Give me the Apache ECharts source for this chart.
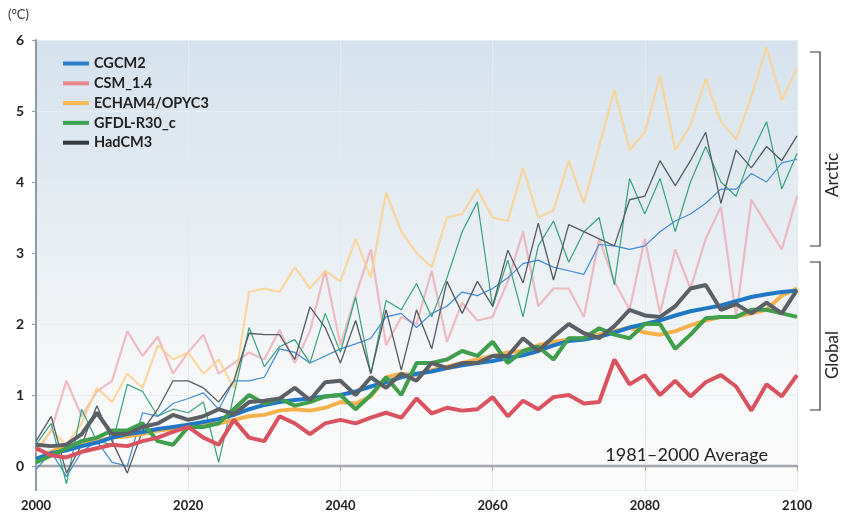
<!DOCTYPE html>
<html>
<head>
<meta charset="utf-8">
<script src="https://cdn.jsdelivr.net/npm/echarts@6.0.0/dist/echarts.min.js"></script>
<style>
  html, body { margin: 0; padding: 0; background: #fff; }
  #chart { width: 841px; height: 517px; }
</style>
</head>
<body>
<div id="chart"></div>
<script>
// years, every second year
var years = [2000, 2002, 2004, 2006, 2008, 2010, 2012, 2014, 2016, 2018,
  2020, 2022, 2024, 2026, 2028, 2030, 2032, 2034, 2036, 2038,
  2040, 2042, 2044, 2046, 2048, 2050, 2052, 2054, 2056, 2058,
  2060, 2062, 2064, 2066, 2068, 2070, 2072, 2074, 2076, 2078,
  2080, 2082, 2084, 2086, 2088, 2090, 2092, 2094, 2096, 2098, 2100]

var models = ['CGCM2', 'CSM_1.4', 'ECHAM4/OPYC3', 'GFDL-R30_c', 'HadCM3']

// 1981-2000 average reference line
var baseline = [[2000, 0], [2100, 0]]

// global mean (thick lines)
var cgcm2Global = [0.10, 0.18, 0.22, 0.28, 0.33, 0.40, 0.45, 0.48, 0.52, 0.55,
  0.58, 0.62, 0.66, 0.72, 0.80, 0.86, 0.90, 0.93, 0.95, 0.98,
  1.00, 1.05, 1.12, 1.18, 1.25, 1.30, 1.33, 1.38, 1.42, 1.45,
  1.48, 1.52, 1.56, 1.62, 1.70, 1.76, 1.78, 1.82, 1.88, 1.95,
  2.00, 2.05, 2.12, 2.18, 2.22, 2.26, 2.32, 2.38, 2.42, 2.45, 2.47]
var csmGlobal = [0.25, 0.15, 0.12, 0.2, 0.25, 0.3, 0.28, 0.35, 0.4, 0.48,
  0.55, 0.4, 0.3, 0.65, 0.4, 0.35, 0.7, 0.6, 0.45, 0.6,
  0.65, 0.6, 0.68, 0.75, 0.68, 0.95, 0.74, 0.82, 0.78, 0.8,
  0.97, 0.7, 0.92, 0.8, 0.97, 1.0, 0.88, 0.9, 1.5, 1.15,
  1.28, 1.0, 1.2, 0.98, 1.18, 1.28, 1.12, 0.78, 1.15, 0.98, 1.28]
var echamGlobal = [0.05, 0.2, 0.3, 0.3, 0.35, 0.4, 0.42, 0.45, 0.5, 0.52,
  0.55, 0.58, 0.6, 0.65, 0.7, 0.72, 0.78, 0.8, 0.78, 0.82,
  0.9, 0.88, 0.98, 1.25, 1.3, 1.28, 1.35, 1.4, 1.45, 1.5,
  1.55, 1.6, 1.62, 1.7, 1.75, 1.78, 1.8, 1.85, 1.9, 1.95,
  1.88, 1.85, 1.9, 1.98, 2.05, 2.1, 2.1, 2.15, 2.2, 2.4, 2.5]
var gfdlGlobal = [0.05, 0.15, 0.25, 0.35, 0.4, 0.5, 0.5, 0.6, 0.35, 0.3,
  0.55, 0.55, 0.6, 0.8, 1.0, 0.88, 0.95, 0.85, 0.9, 0.98,
  1.0, 0.8, 1.0, 1.25, 1.0, 1.45, 1.45, 1.5, 1.62, 1.55,
  1.75, 1.45, 1.62, 1.68, 1.5, 1.8, 1.8, 1.94, 1.85, 1.8,
  2.0, 2.0, 1.65, 1.85, 2.08, 2.1, 2.1, 2.2, 2.2, 2.15, 2.1]
var hadGlobal = [0.3, 0.28, 0.3, 0.45, 0.75, 0.45, 0.45, 0.55, 0.6, 0.72,
  0.65, 0.7, 0.8, 0.73, 0.9, 0.92, 0.95, 1.1, 0.93, 1.18,
  1.2, 1.0, 1.25, 1.1, 1.3, 1.2, 1.45, 1.38, 1.45, 1.45,
  1.55, 1.55, 1.8, 1.62, 1.82, 2.0, 1.87, 1.8, 1.97, 2.2,
  2.12, 2.1, 2.25, 2.5, 2.55, 2.2, 2.28, 2.15, 2.3, 2.15, 2.48]

// arctic (thin lines)
var cgcm2Arctic = [-0.05, 0.2, -0.15, 0.2, 0.35, 0.05, 0.0, 0.75, 0.7, 0.88,
  0.95, 1.03, 0.8, 1.2, 1.2, 1.25, 1.65, 1.6, 1.45, 1.55,
  1.65, 1.72, 1.8, 2.1, 2.15, 1.95, 2.15, 2.25, 2.45, 2.4,
  2.5, 2.65, 2.85, 2.9, 2.8, 2.75, 2.7, 3.12, 3.1, 3.05,
  3.1, 3.3, 3.45, 3.55, 3.7, 3.9, 3.9, 4.12, 4.0, 4.27, 4.32]
var csmArctic = [0.2, 0.5, 1.2, 0.7, 1.05, 1.2, 1.9, 1.55, 1.82, 1.3,
  1.6, 1.85, 1.3, 1.45, 1.6, 1.5, 1.92, 1.45, 1.9, 2.75,
  1.7, 2.4, 3.05, 1.7, 2.1, 2.0, 2.75, 1.75, 2.3, 2.05,
  2.1, 2.6, 3.3, 2.25, 2.5, 2.5, 2.1, 3.2, 2.6, 2.2,
  3.2, 2.15, 3.05, 2.5, 3.2, 3.65, 2.1, 3.75, 3.4, 3.05, 3.8]
var echamArctic = [0.2, 0.5, 0.3, 0.6, 1.1, 0.9, 1.3, 1.1, 1.7, 1.5,
  1.6, 1.3, 1.5, 1.1, 2.45, 2.5, 2.45, 2.8, 2.5, 2.75,
  2.6, 3.2, 2.65, 3.85, 3.3, 3.0, 2.8, 3.5, 3.55, 3.9,
  3.5, 3.45, 4.2, 3.5, 3.6, 4.3, 3.7, 4.5, 5.3, 4.45,
  4.7, 5.5, 4.45, 4.8, 5.45, 4.85, 4.6, 5.2, 5.9, 5.15, 5.6]
var gfdlArctic = [0.3, 0.6, -0.25, 0.8, 0.35, 0.3, 1.15, 1.05, 0.7, 0.8,
  0.75, 0.9, 0.05, 1.0, 1.95, 1.4, 1.68, 1.78, 1.45, 2.15,
  1.6, 2.38, 1.3, 2.33, 2.2, 2.57, 2.1, 2.65, 3.3, 3.72,
  2.24, 2.9, 2.1, 3.1, 3.45, 2.87, 3.3, 3.5, 2.55, 4.05,
  3.55, 4.05, 3.3, 4.0, 4.5, 4.0, 3.8, 4.4, 4.85, 3.9, 4.4]
var hadArctic = [0.35, 0.7, -0.1, 0.3, 0.85, 0.35, -0.1, 0.5, 0.8, 1.2,
  1.2, 1.1, 0.9, 1.2, 1.87, 1.85, 1.85, 1.5, 2.24, 1.95,
  1.45, 2.05, 1.3, 2.2, 1.35, 2.2, 1.65, 2.6, 2.15, 2.6,
  2.25, 3.04, 2.58, 3.42, 2.62, 3.4, 3.3, 3.2, 3.1, 3.75,
  3.8, 4.3, 3.95, 4.3, 4.7, 3.7, 4.45, 4.2, 4.5, 4.3, 4.65]

var FONT = 'Lato, "Open Sans", sans-serif'

function pairs(vals) {
  return years.map(function (y, i) { return [y, vals[i]] })
}

function thin(name, vals, color, width, opacity) {
  return {
    name: name, type: 'line', data: pairs(vals), symbol: 'none',
    lineStyle: { color: color, width: width, opacity: opacity },
    itemStyle: { color: color }, z: 3, silent: true
  }
}

function thick(name, vals, color) {
  return {
    name: name, type: 'line', data: pairs(vals), symbol: 'none',
    lineStyle: { color: color, width: 4 },
    itemStyle: { color: color }, z: 4, silent: true
  }
}

var chart = echarts.init(document.getElementById('chart'))

chart.setOption({
  animation: false,
  backgroundColor: '#fff',
  grid: {
    left: 36, right: 44, top: 40, bottom: 27,
    show: true,
    borderWidth: 0,
    backgroundColor: new echarts.graphic.LinearGradient(0, 0, 0, 1, [
      { offset: 0, color: '#d5e2ed' },
      { offset: 0.45, color: '#e8eef3' },
      { offset: 0.75, color: '#f7f8f9' },
      { offset: 1, color: '#fbfbfb' }
    ])
  },
  legend: {
    orient: 'vertical',
    left: 58, top: 51,
    icon: 'rect',
    itemWidth: 26, itemHeight: 4, itemGap: 4.8,
    selectedMode: false,
    textStyle: { fontFamily: FONT, fontWeight: 'bold', fontSize: 14.5, color: '#222', lineHeight: 14 },
    data: [
      { name: 'CGCM2', itemStyle: { color: '#2a7fca' } },
      { name: 'CSM_1.4', itemStyle: { color: '#e8848d' } },
      { name: 'ECHAM4/OPYC3', itemStyle: { color: '#f8b856' } },
      { name: 'GFDL-R30_c', itemStyle: { color: '#3ea152' } },
      { name: 'HadCM3', itemStyle: { color: '#33393f' } }
    ]
  },
  xAxis: {
    type: 'value', min: 2000, max: 2100, interval: 20,
    axisLine: { lineStyle: { color: '#9aa4ad', width: 2 } },
    axisTick: { length: 5, lineStyle: { color: '#9aa4ad' } },
    axisLabel: {
      fontFamily: FONT, fontWeight: 'bold', fontSize: 13, color: '#222', margin: 9,
      formatter: function (v) { return String(v) }
    },
    splitLine: { show: true, lineStyle: { color: '#e3eaf0', width: 1 } }
  },
  yAxis: {
    type: 'value', min: -0.338, max: 6, splitNumber: 6,
    axisLine: { show: true, lineStyle: { color: '#8d9ba6', width: 2 } },
    axisTick: { show: true, length: 4, lineStyle: { color: '#8d9ba6' } },
    axisLabel: {
      fontFamily: FONT, fontWeight: 'bold', fontSize: 14, color: '#222', margin: 12,
      showMinLabel: false,
      formatter: function (v) { return Number.isInteger(v) ? String(v) : '' }
    },
    splitLine: { show: true, lineStyle: { color: '#e6edf3', width: 1 } }
  },
  series: [
    {
      name: 'baseline', type: 'line', data: baseline, symbol: 'none', silent: true, z: 2,
      lineStyle: { color: '#a2a6aa', width: 2.5 }
    },
    thin('CSM_1.4', csmArctic, '#eba3ab', 2.2, 0.7),
    thin('ECHAM4/OPYC3', echamArctic, '#fcd08a', 2.2, 0.8),
    thin('CGCM2', cgcm2Arctic, '#3f8ad6', 1.2, 1),
    thin('GFDL-R30_c', gfdlArctic, '#35a27a', 1.2, 1),
    thin('HadCM3', hadArctic, '#555b62', 1.3, 1),
    thick('ECHAM4/OPYC3', echamGlobal, '#f6b14c'),
    thick('CGCM2', cgcm2Global, '#1f77c6'),
    thick('GFDL-R30_c', gfdlGlobal, '#3f9f4d'),
    thick('CSM_1.4', csmGlobal, '#d9525f'),
    thick('HadCM3', hadGlobal, '#5b6066')
  ],
  graphic: [
    { type: 'text', left: 8, top: 8, style: { text: '(°C)', font: '13px ' + FONT, fill: '#333' } },
    {
      type: 'text', x: 768, y: 455,
      style: { text: '1981–2000 Average', font: '18px ' + FONT, fill: '#222', align: 'right', verticalAlign: 'middle' }
    },
    {
      type: 'polyline', shape: { points: [[810, 52], [820, 52], [820, 246], [810, 246]] },
      style: { stroke: '#333', lineWidth: 1.2, fill: null }
    },
    {
      type: 'polyline', shape: { points: [[810, 262], [820, 262], [820, 410], [810, 410]] },
      style: { stroke: '#333', lineWidth: 1.2, fill: null }
    },
    {
      type: 'text', x: 833, y: 175, rotation: Math.PI / 2,
      style: { text: 'Arctic', font: '17px ' + FONT, fill: '#222', align: 'center', verticalAlign: 'middle' }
    },
    {
      type: 'text', x: 833, y: 355, rotation: Math.PI / 2,
      style: { text: 'Global', font: '17px ' + FONT, fill: '#222', align: 'center', verticalAlign: 'middle' }
    }
  ]
})
</script>
</body>
</html>
